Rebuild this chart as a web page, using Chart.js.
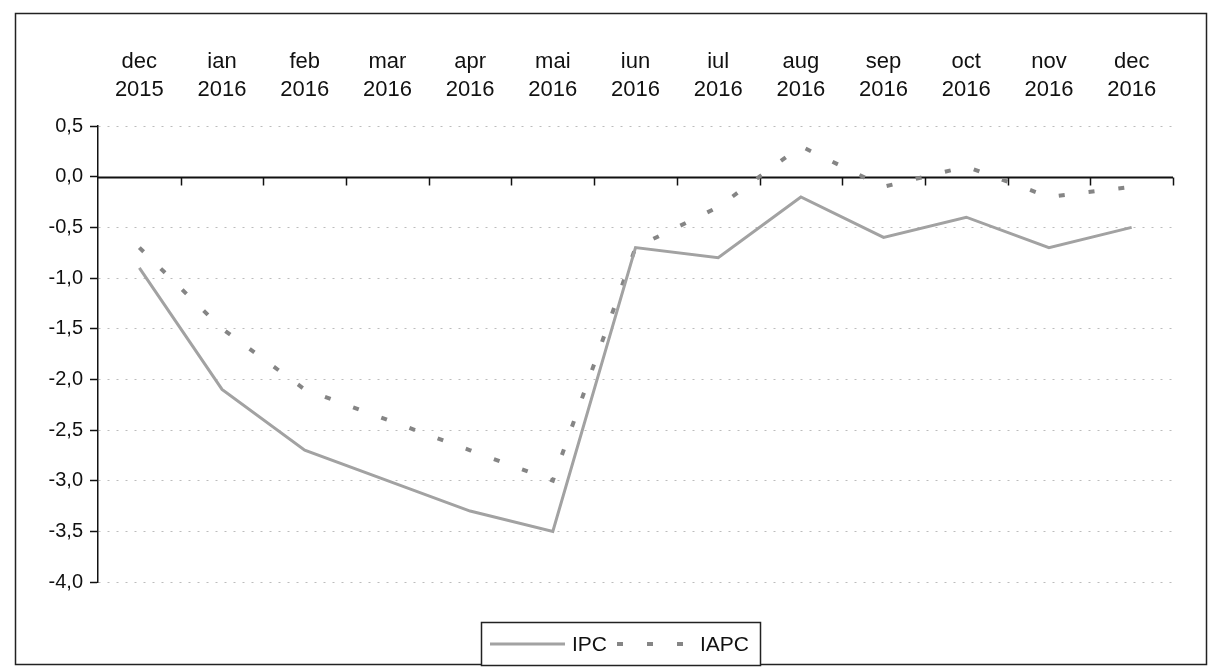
<!DOCTYPE html>
<html>
<head>
<meta charset="utf-8">
<script src="https://cdn.jsdelivr.net/npm/chart.js@4.4.1/dist/chart.umd.min.js"></script>
<style>
  html, body { margin: 0; padding: 0; background: #fff; }
  #wrap { width: 1208px; height: 672px; }
</style>
</head>
<body>
<div id="wrap"><canvas id="lineChart" width="1208" height="672"></canvas></div>
<script>
// luni (eticheta pe doua randuri)
const months = [
  ['dec', '2015'], ['ian', '2016'], ['feb', '2016'], ['mar', '2016'],
  ['apr', '2016'], ['mai', '2016'], ['iun', '2016'], ['iul', '2016'],
  ['aug', '2016'], ['sep', '2016'], ['oct', '2016'], ['nov', '2016'],
  ['dec', '2016']
];
const ipc  = [-0.9, -2.1, -2.7, -3.0, -3.3, -3.5, -0.7, -0.8, -0.2, -0.6, -0.4, -0.7, -0.5];
const iapc = [-0.7, -1.5, -2.1, -2.4, -2.7, -3.0, -0.7, -0.3, 0.3, -0.1, 0.1, -0.2, -0.1];
const yMin = -4.0;
const yMax = 0.5;
const yStep = 0.5;

Chart.defaults.font.family = "'Liberation Sans', Arial, sans-serif";
Chart.defaults.color = '#111';

// linia de zero cu gradatii (axa categoriilor trece prin 0)
const zeroAxis = {
  id: 'zeroAxis',
  beforeDatasetsDraw(chart) {
    const { ctx, scales: { x, y } } = chart;
    const y0 = Math.round(y.getPixelForValue(0)) + 0.5;
    const n = chart.data.labels.length;
    ctx.save();
    ctx.strokeStyle = '#111';
    ctx.lineWidth = 2;
    ctx.beginPath();
    ctx.moveTo(x.left, y0);
    ctx.lineTo(x.right, y0);
    ctx.stroke();
    ctx.lineWidth = 1.5;
    for (let i = 1; i <= n; i++) {
      const px = Math.round(x.left + i * (x.right - x.left) / n) + 0.5;
      ctx.beginPath();
      ctx.moveTo(px, y0);
      ctx.lineTo(px, y0 + 8);
      ctx.stroke();
    }
    ctx.restore();
  }
};

// cadrul exterior si legenda incadrata
const frameLegend = {
  id: 'frameLegend',
  afterDraw(chart) {
    const { ctx } = chart;
    const ds = chart.data.datasets;
    ctx.save();
    ctx.strokeStyle = '#222';
    ctx.lineWidth = 1.5;
    ctx.strokeRect(15.5, 13.5, 1191, 651);

    ctx.fillStyle = '#fff';
    ctx.fillRect(481.5, 622.5, 279, 43);
    ctx.strokeRect(481.5, 622.5, 279, 43);

    const ly = 644;
    ctx.lineWidth = ds[0].borderWidth;
    ctx.strokeStyle = ds[0].borderColor;
    ctx.beginPath();
    ctx.moveTo(490, ly);
    ctx.lineTo(565, ly);
    ctx.stroke();

    ctx.lineWidth = ds[1].borderWidth;
    ctx.strokeStyle = ds[1].borderColor;
    ctx.setLineDash(ds[1].borderDash);
    ctx.beginPath();
    ctx.moveTo(617, ly);
    ctx.lineTo(695, ly);
    ctx.stroke();
    ctx.setLineDash([]);

    ctx.fillStyle = '#111';
    ctx.font = "21px 'Liberation Sans', Arial, sans-serif";
    ctx.textBaseline = 'middle';
    ctx.fillText(ds[0].label, 572, ly + 1);
    ctx.fillText(ds[1].label, 700, ly + 1);
    ctx.restore();
  }
};

const ctxLine = document.getElementById('lineChart');

const lineChart = new Chart(ctxLine, {
  type: 'line',
  data: {
    labels: months,
    datasets: [{
      label: 'IPC',
      data: ipc,
      borderColor: '#a2a2a2',
      borderWidth: 3,
      pointRadius: 0,
      tension: 0,
      fill: false,
    }, {
      label: 'IAPC',
      data: iapc,
      borderColor: '#858585',
      borderWidth: 4,
      borderDash: [6, 24],
      pointRadius: 0,
      tension: 0,
      fill: false,
    }]
  },
  options: {
    responsive: false,
    animation: false,
    layout: {
      padding: { top: 10, left: 0, right: 35, bottom: 90 }
    },
    plugins: {
      legend: { display: false },
      title: { display: false },
      tooltip: { enabled: false },
    },
    scales: {
      x: {
        type: 'category',
        position: 'top',
        offset: true,
        grid: {
          display: false,
          drawTicks: false,
        },
        border: { display: false },
        ticks: {
          autoSkip: false,
          maxRotation: 0,
          padding: 22,
          font: { size: 22, lineHeight: 1.27 },
        },
        afterFit: (scale) => { scale.height = 116; },
      },
      y: {
        min: yMin,
        max: yMax,
        grid: {
          color: (c) => (c.tick && c.tick.value === 0) ? 'rgba(0,0,0,0)' : '#bcbcbc',
          lineWidth: 1,
          drawTicks: true,
          tickLength: 8,
          tickColor: '#111',
          tickWidth: 1.5,
        },
        border: {
          display: true,
          color: '#111',
          width: 1.5,
          dash: [2, 7],
        },
        ticks: {
          stepSize: yStep,
          padding: 7,
          font: { size: 20 },
          callback: (v) => v.toFixed(1).replace('.', ','),
        },
        afterFit: (scale) => { scale.width = 98; },
      }
    }
  },
  plugins: [zeroAxis, frameLegend],
});
</script>
</body>
</html>
